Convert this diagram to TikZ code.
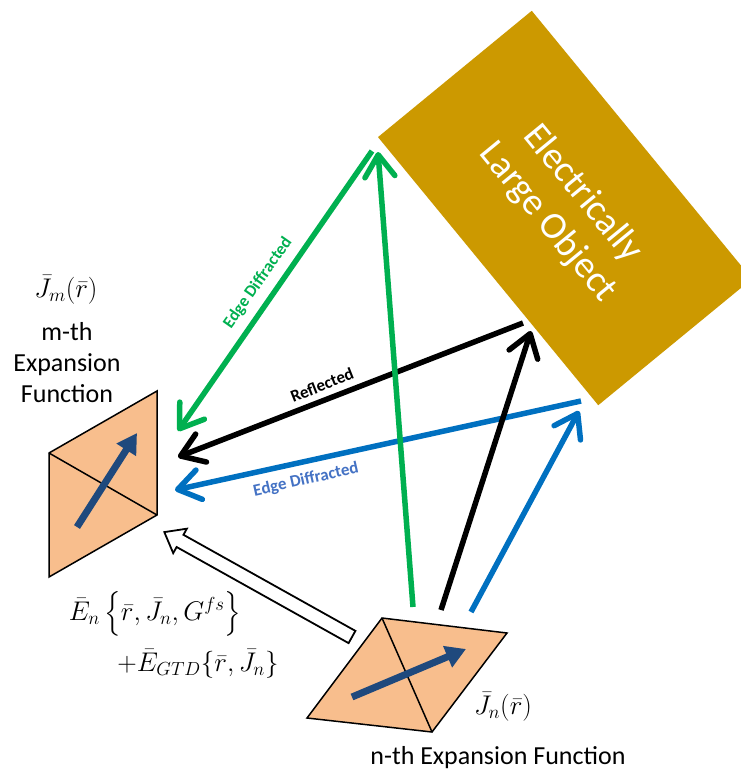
\RequirePackage{fix-cm}
\documentclass[tikz,border=0pt]{standalone}
\usepackage{amsmath}
\usepackage[no-math]{fontspec}
\setmainfont{Carlito}
\usetikzlibrary{arrows.meta}
\definecolor{objgold}{RGB}{204,153,0}
\definecolor{patchfill}{RGB}{248,190,141}
\definecolor{jarrow}{RGB}{31,73,125}
\definecolor{gtdgreen}{RGB}{0,176,80}
\definecolor{gtdblue}{RGB}{0,112,192}
\definecolor{lblblue}{RGB}{68,114,196}
\begin{document}
\begin{tikzpicture}[x=1pt,y=-1pt,
  ray/.style={line width=5.5pt,-{Straight Barb[round,length=22pt,width=30pt]}},
  jvec/.style={jarrow,line width=7pt,-{Triangle[length=20pt,width=22pt]}},
  patch/.style={draw,line width=1.5pt,fill=patchfill,line join=miter},
  objbox/.style={fill=objgold,text=white,rotate=-50.6,minimum width=347pt,minimum height=199pt,align=center,font=\fontsize{38}{45}\selectfont},
  captxt/.style={font=\fontsize{26}{31}\selectfont,inner sep=0pt},
  mathtxt/.style={font=\fontsize{27}{32}\selectfont,inner sep=0pt},
  raylbl/.style={font=\fontsize{17}{20}\selectfont\bfseries,inner sep=1pt}]
\useasboundingbox (0,0) rectangle (741,772);
\clip (0,0) rectangle (741,772);
% large object
\node[objbox] (obj) at (565,208) {Electrically\\Large Object};
% m-th patch
\coordinate (mTL) at (49,453); \coordinate (mTR) at (157,391);
\coordinate (mBR) at (157,515); \coordinate (mBL) at (49,577);
\draw[patch] (mTL) -- (mTR) -- (mBR) -- (mBL) -- cycle;
\draw[line width=1.5pt] (mTL) -- (mBR);
\coordinate (mJs) at (77,527); \coordinate (mJe) at (137,433);
\draw[jvec] (mJs) -- (mJe);
% n-th patch
\coordinate (nT) at (382,618); \coordinate (nR) at (507,633);
\coordinate (nB) at (432,732); \coordinate (nL) at (307,718);
\draw[patch] (nT) -- (nR) -- (nB) -- (nL) -- cycle;
\draw[line width=1.5pt] (nT) -- (nB);
\coordinate (nJs) at (352,697); \coordinate (nJe) at (466,649);
\draw[jvec] (nJs) -- (nJe);
% ray end points
\coordinate (objG) at (372,151); \coordinate (mG) at (178,431);
\coordinate (nG) at (413,607);   \coordinate (objG2) at (378,152);
\coordinate (objR) at (523,323); \coordinate (mR) at (178,457);
\coordinate (nK) at (441,610);   \coordinate (objK) at (531,331);
\coordinate (objB) at (581,401); \coordinate (mB) at (175,490);
\coordinate (nB2) at (471,612);  \coordinate (objB2) at (579,411);
% rays
\draw[ray,gtdblue] (objB) -- (mB);
\draw[ray,gtdblue] (nB2) -- (objB2);
\draw[ray,black] (objR) -- (mR);
\draw[ray,black] (nK) -- (objK);
\draw[ray,gtdgreen] (objG) -- (mG);
\draw[ray,gtdgreen] (nG) -- (objG2);
\node[raylbl,text=gtdgreen,rotate=55] (lblG) at (258,283) {Edge Diffracted};
\node[raylbl,rotate=21.5] (lblR) at (322,385) {Reflected};
\node[raylbl,text=lblblue,rotate=12.5] (lblB) at (306,480) {Edge Diffracted};
% free-space + GTD field
\coordinate (hTail) at (352,637); \coordinate (hTip) at (164,532);
\begin{scope}[shift={(hTail)},rotate=150.8]
\draw[line width=1.8pt,fill=white,line join=miter] (0,-7) -- (197,-7) -- (197,-14) -- (215,0) -- (197,14) -- (197,7) -- (0,7) -- cycle;
\end{scope}
% labels
\node[mathtxt] (jm) at (66,290) {$\bar J_m(\bar r)$};
\node[captxt,align=center] (mlbl) at (67,363) {m-th\\Expansion\\Function};
\node[mathtxt] (jn) at (503,707) {$\bar J_n(\bar r)$};
\node[captxt] (nlbl) at (498,758) {n-th Expansion Function};
\node[mathtxt] (eq1) at (155,614) {$\bar E_n\left\{\vrule height 24pt depth 12pt width 0pt\bar r,\bar J_n,G^{fs}\right\}$};
\node[mathtxt] (eq2) at (198,664) {$+\bar E_{GTD}\{\bar r,\bar J_n\}$};
\end{tikzpicture}
\end{document}
